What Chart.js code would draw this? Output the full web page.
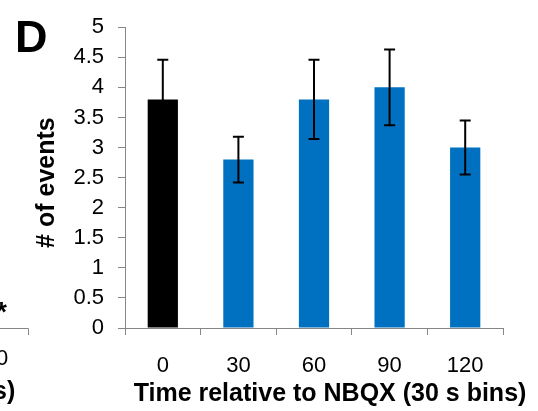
<!DOCTYPE html>
<html>
<head>
<meta charset="utf-8">
<script src="https://cdn.jsdelivr.net/npm/chart.js@4"></script>
<style>
  html, body { margin: 0; padding: 0; background: #ffffff; }
  #wrap { width: 538px; height: 411px; position: relative; }
</style>
</head>
<body>
<div id="wrap"><canvas id="c" width="538" height="411"></canvas></div>
<script>
// ---- data ----
const categories = ['0', '30', '60', '90', '120'];
const eventCounts = [3.8, 2.8, 3.8, 4.0, 3.0];
const errorValues = [0.66, 0.38, 0.66, 0.63, 0.45];
const barColors = ['#000000', '#0070C0', '#0070C0', '#0070C0', '#0070C0'];
const yTickMin = 0, yTickMax = 5, yTickStep = 0.5;
const xTitle = 'Time relative to NBQX (30 s bins)';
const yTitle = '# of events';
const panelLetter = 'D';

const AXIS_COLOR = '#868686';
const FONT = '"Liberation Sans", Arial, sans-serif';

const errorBarPlugin = {
  id: 'errorBars',
  afterDatasetsDraw(chart) {
    const ctx = chart.ctx;
    const meta = chart.getDatasetMeta(0);
    const y = chart.scales.y;
    ctx.save();
    ctx.strokeStyle = '#000000';
    ctx.lineWidth = 2;
    meta.data.forEach((bar, i) => {
      const v = eventCounts[i], e = errorValues[i];
      const yt = y.getPixelForValue(v + e);
      const yb = y.getPixelForValue(v - e);
      const x = bar.x;
      const cap = 5.5;
      ctx.beginPath();
      ctx.moveTo(x, yt); ctx.lineTo(x, yb);
      ctx.moveTo(x - cap, yt); ctx.lineTo(x + cap, yt);
      ctx.moveTo(x - cap, yb); ctx.lineTo(x + cap, yb);
      ctx.stroke();
    });
    ctx.restore();
  }
};

const textPlugin = {
  id: 'panelText',
  afterDraw(chart) {
    const ctx = chart.ctx;
    const area = chart.chartArea;
    ctx.save();
    ctx.fillStyle = '#000000';
    // panel letter
    ctx.font = 'bold 45px ' + FONT;
    ctx.textAlign = 'left';
    ctx.textBaseline = 'alphabetic';
    ctx.fillText(panelLetter, 15, 52);
    // y title
    ctx.save();
    ctx.translate(47, (area.top + area.bottom) / 2 + 5);
    ctx.rotate(-Math.PI / 2);
    ctx.font = 'bold 25px ' + FONT;
    ctx.textAlign = 'center';
    ctx.textBaseline = 'middle';
    ctx.fillText(yTitle, 0, 0);
    ctx.restore();
    // x title
    ctx.font = 'bold 25px ' + FONT;
    ctx.textAlign = 'center';
    ctx.textBaseline = 'alphabetic';
    ctx.fillText(xTitle, 330, 401);
    // fragments of neighbouring panel at left edge
    ctx.font = 'bold 25px ' + FONT;
    ctx.textAlign = 'left';
    ctx.fillText('s)', -7, 399);
    ctx.font = 'bold 28px ' + FONT;
    ctx.fillText('*', -4, 321);
    ctx.font = '22px ' + FONT;
    ctx.textAlign = 'center';
    ctx.fillText('0', 2, 365);
    ctx.strokeStyle = AXIS_COLOR;
    ctx.lineWidth = 1;
    ctx.beginPath();
    ctx.moveTo(0, area.bottom + 0.5); ctx.lineTo(28.5, area.bottom + 0.5);
    ctx.lineTo(28.5, area.bottom + 7);
    ctx.stroke();
    ctx.restore();
  }
};

new Chart(document.getElementById('c'), {
  type: 'bar',
  data: {
    labels: categories,
    datasets: [{
      data: eventCounts,
      backgroundColor: barColors,
      borderWidth: 0,
      barPercentage: 0.4,
      categoryPercentage: 1.0
    }]
  },
  options: {
    responsive: false,
    animation: false,
    devicePixelRatio: 1,
    layout: { padding: { left: 0, right: 35, top: 21, bottom: 0 } },
    plugins: { legend: { display: false }, tooltip: { enabled: false }, title: { display: false } },
    scales: {
      x: {
        grid: { display: true, drawOnChartArea: false, drawTicks: true, tickLength: 7, color: AXIS_COLOR, offset: true },
        border: { display: true, color: AXIS_COLOR, width: 1 },
        ticks: { color: '#000000', font: { family: FONT, size: 22 }, padding: 18, maxRotation: 0 },
        afterFit(scale) { scale.height = 83; }
      },
      y: {
        min: yTickMin, max: yTickMax,
        grid: { display: true, drawOnChartArea: false, drawTicks: true, tickLength: 7, color: AXIS_COLOR },
        border: { display: true, color: AXIS_COLOR, width: 1 },
        ticks: {
          stepSize: yTickStep, color: '#000000', font: { family: FONT, size: 22 }, padding: 14,
          callback: (v) => String(Math.round(v * 10) / 10)
        },
        afterFit(scale) { scale.width = 125; }
      }
    }
  },
  plugins: [errorBarPlugin, textPlugin]
});
</script>
</body>
</html>
